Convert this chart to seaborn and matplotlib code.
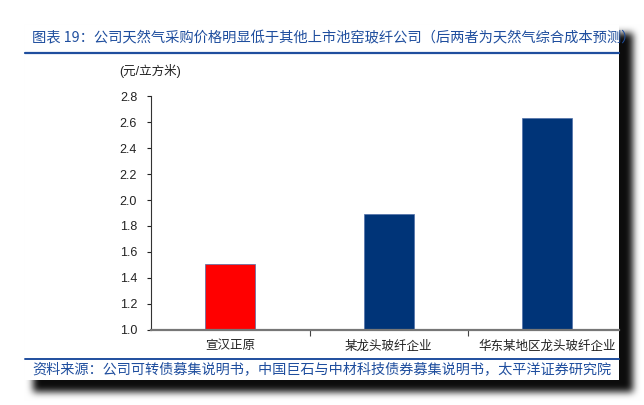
import numpy as np
import matplotlib
matplotlib.use("Agg")
import matplotlib.pyplot as plt
import seaborn as sns
from matplotlib.patches import Rectangle

# data
companies = ["宣汉正原", "某龙头玻纤企业", "华东某地区龙头玻纤企业"]
gas_price = [1.51, 1.89, 2.63]
bar_colors = ["#FF0000", "#003478", "#003478"]
y_ticks = [1.0, 1.2, 1.4, 1.6, 1.8, 2.0, 2.2, 2.4, 2.6, 2.8]

title = "图表 19：公司天然气采购价格明显低于其他上市池窑玻纤公司（后两者为天然气综合成本预测）"
source = "资料来源：公司可转债募集说明书，中国巨石与中材科技债券募集说明书，太平洋证券研究院"
unit = "(元/立方米)"

W, H = 644, 405
blue = "#1F4E9E"

sns.set_style("white")
plt.rcParams["font.family"] = ["Noto Sans CJK SC", "DejaVu Sans"]

fig = plt.figure(figsize=(W / 100, H / 100), dpi=100)

# background: page with a soft drop shadow (pixel coordinates)
yy, xx = np.mgrid[0:H, 0:W]
shadow = ((xx >= 33) & (xx < 633) & (yy >= 33) & (yy < 392)).astype(float)


def box_blur(a, r):
    k = np.ones(2 * r + 1) / (2 * r + 1)
    a = np.apply_along_axis(lambda m: np.convolve(m, k, mode="same"), 0, a)
    a = np.apply_along_axis(lambda m: np.convolve(m, k, mode="same"), 1, a)
    return a


for _ in range(3):
    shadow = box_blur(shadow, 3)
bg = np.ones((H, W, 3)) * (1 - 0.95 * shadow[..., None])
page = (xx >= 25) & (xx < 619) & (yy >= 25) & (yy < 380)
bg[page] = 1.0

bg_ax = fig.add_axes([0, 0, 1, 1], zorder=-1)
bg_ax.imshow(bg, extent=(0, W, H, 0), aspect="auto", interpolation="bilinear")
bg_ax.set_xlim(0, W)
bg_ax.set_ylim(H, 0)
bg_ax.axis("off")

clip = Rectangle((25, 25), 594, 355, transform=bg_ax.transData)
t = bg_ax.text(32, 38, title, color=blue, fontsize=10.3, va="center", ha="left")
t.set_clip_path(clip)
bg_ax.plot([25, 619], [53, 53], color=blue, lw=1.6)
bg_ax.plot([25, 619], [358.5, 358.5], color=blue, lw=1.4)
bg_ax.text(32, 369, source, color=blue, fontsize=10.2, va="center", ha="left")
bg_ax.text(119, 71, unit, fontsize=9, va="center", ha="left",
           family=["Liberation Sans", "Noto Sans CJK SC"], color="#222222")

# main chart
ax = fig.add_axes([151 / W, (H - 329.7) / H, (619 - 151) / W, (329.7 - 96.3) / H])
ax.patch.set_alpha(0)
sns.barplot(x=companies, y=gas_price, hue=companies, palette=bar_colors,
            width=0.315, saturation=1, legend=False, ax=ax,
            edgecolor="#4F6FA8", linewidth=0.5)

ax.set_ylim(1.0, 2.8)
ax.set_xlim(-0.5, 2.5 - 7.5 / 158.5)
ax.set_yticks(y_ticks)
ax.set_yticklabels([f"{v:.1f}" for v in y_ticks], family="Liberation Sans", fontsize=9)
ax.set_xticks([0.5, 1.5], minor=True)
ax.set_xticklabels(companies, fontsize=9)
ax.set_xlabel("")
ax.set_ylabel("")

ax.tick_params(axis="y", direction="out", length=3, width=0.8, pad=7,
               left=True, colors="#222222")
ax.tick_params(axis="x", which="major", length=0, pad=7, colors="#222222")
ax.tick_params(axis="x", which="minor", direction="out", length=4, width=0.8,
               bottom=True, color="#444444")

sns.despine(ax=ax)
ax.spines["left"].set_color("#333333")
ax.spines["left"].set_linewidth(0.8)
ax.spines["bottom"].set_color("#777777")
ax.spines["bottom"].set_linewidth(1.6)

fig.savefig("out.png", dpi=100)
